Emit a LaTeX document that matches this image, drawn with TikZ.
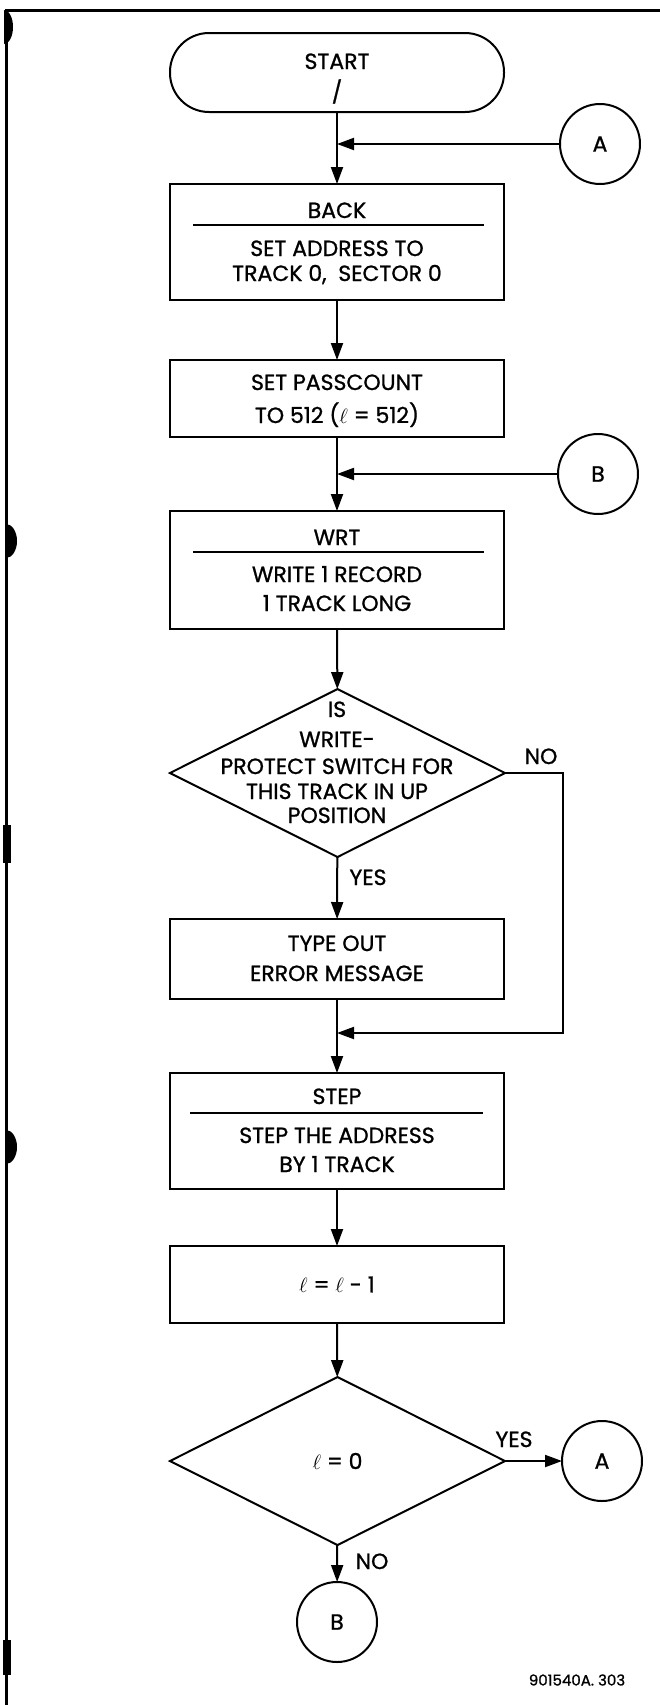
\documentclass[tikz,border=0pt]{standalone}
\usepackage{fontspec}
\setmainfont{Poppins}[FakeBold=1]
\usetikzlibrary{arrows.meta,shapes.geometric}

\tikzset{
  box/.style={draw, line width=2pt, minimum width=334pt, minimum height=#1, inner sep=0pt, outer sep=0pt, font=\flow},
  decision/.style={draw, diamond, line width=2pt, minimum width=335pt, minimum height=168pt, inner sep=0pt, outer sep=0pt, font=\flow},
  conn/.style={draw, circle, line width=2pt, minimum size=80pt, inner sep=0pt, outer sep=0pt, font=\flow},
  txt/.style={inner sep=0pt, text height=16pt, text depth=0pt, font=\flow},
  arr/.style={line width=2pt, -{Triangle[length=17pt,width=12pt]}},
}
\newcommand{\flow}{\fontsize{22}{26}\selectfont}

\begin{document}
\begin{tikzpicture}[x=1pt,y=-1pt]

        \useasboundingbox (0,0) rectangle (660,1705);
        \draw[line width=3pt] (660,10) -- (6,10) -- (6,1705);
        \fill (4,10) arc[start angle=90,end angle=-90,x radius=9pt,y radius=17pt] -- cycle;
        \foreach \y in {541,1147} {
          \fill (6,\y-17) arc[start angle=90,end angle=-90,x radius=11pt,y radius=17pt] -- cycle;
        }
        \fill (3,825) rectangle (11,863);
        \fill (3,1640) rectangle (11,1675);

        \node[box=79pt, rounded corners=39pt] (start) at (337,72.5) {};
        \node[txt] (startlbl) at (337,61) {START};
        \node[txt] (slash) at (337,92) {/};

        \node[conn] (A) at (600,144) {A};
        \coordinate (ja) at (337,144);

        \node[box=116pt] (back) at (337,242) {};
        \node[txt] (backlbl) at (337,210) {BACK};
        \draw[line width=2pt] (193,225) -- (484,225);
        \node[txt] (back1) at (337,248) {SET ADDRESS TO};
        \node[txt] (back2) at (337,273) {TRACK 0,\ \ SECTOR 0};

        \node[box=77pt] (pass) at (337,398.5) {};
        \node[txt] (pass1) at (337,382) {SET PASSCOUNT};
        \node[txt] (pass2) at (337,415) {TO 512 ($\ell$ = 512)};

        \node[conn] (B) at (598,474) {B};
        \coordinate (jb) at (337,474);

        \node[box=118pt] (wrt) at (337,570) {};
        \node[txt] (wrtlbl) at (337,537) {WRT};
        \draw[line width=2pt] (193,552) -- (484,552);
        \node[txt] (wrt1) at (337,574) {WRITE 1 RECORD};
        \node[txt] (wrt2) at (337,603) {1 TRACK LONG};

        \node[decision] (isprot) at (337.5,773) {};
        \node[txt] (is1) at (337,709) {IS};
        \node[txt] (is2) at (337,739) {WRITE-};
        \node[txt] (is3) at (337,766) {PROTECT SWITCH FOR};
        \node[txt] (is4) at (337,791) {THIS TRACK IN UP};
        \node[txt] (is5) at (337,815) {POSITION};
        \node[txt] (no1) at (541,756) {NO};
        \node[txt] (yes1) at (368,877) {YES};

        \node[box=80pt] (type) at (337,959) {};
        \node[txt] (type1) at (337,943) {TYPE OUT};
        \node[txt] (type2) at (337,973) {ERROR MESSAGE};
        \coordinate (jno) at (337,1033);

        \node[box=116pt] (step) at (337,1131) {};
        \node[txt] (steplbl) at (337,1096) {STEP};
        \draw[line width=2pt] (190,1113) -- (483,1113);
        \node[txt] (step1) at (337,1135) {STEP THE ADDRESS};
        \node[txt] (step2) at (337,1164) {BY 1 TRACK};

        \node[box=77pt] (dec) at (337,1284.5) {$\ell$ = $\ell$ - 1};

        \node[decision] (iszero) at (337.5,1461) {$\ell$ = 0};
        \node[txt] (yes2) at (514,1439) {YES};
        \node[conn] (A2) at (602,1461) {A};
        \node[txt] (no2) at (372,1561) {NO};
        \node[conn] (B2) at (337,1622) {B};

        \node[inner sep=0pt, font=\fontsize{15}{18}\selectfont] (fig) at (577,1680) {901540A. 303};

        \draw[arr] (start) -- (back);
        \draw[arr] (A) -- (ja);
        \draw[arr] (back) -- (pass);
        \draw[arr] (pass) -- (wrt);
        \draw[arr] (B) -- (jb);
        \draw[arr] (wrt) -- (isprot);
        \draw[arr] (isprot) -- (type);
        \draw[arr] (isprot.east) -- ++(58,0) |- (jno);
        \draw[arr] (type) -- (step);
        \draw[arr] (step) -- (dec);
        \draw[arr] (dec) -- (iszero);
        \draw[arr] (iszero) -- (A2);
        \draw[arr] (iszero) -- (B2);

      \end{tikzpicture}
\end{document}
